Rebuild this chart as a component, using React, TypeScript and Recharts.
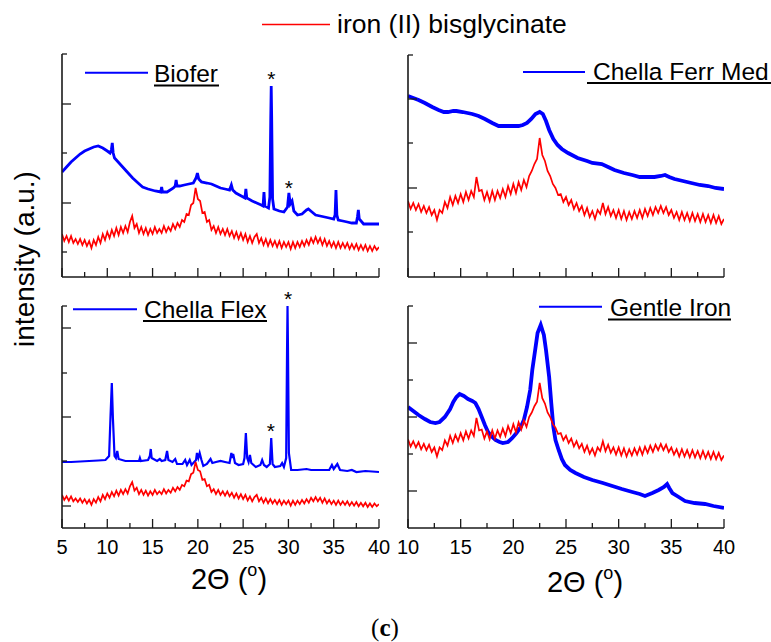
import React from 'react';
import { LineChart, Line, XAxis, YAxis, ReferenceDot } from 'recharts';

const W = 771;
const H = 642;
const FONT = '"Liberation Sans", Arial, Helvetica, sans-serif';
const SERIF = '"Liberation Serif", "Times New Roman", serif';
const BLUE = '#0000ff';
const RED = '#ff0000';
const AXIS = '#1a1a1a';

// ---------- tick values ----------
const leftXTicks = [5, 7.5, 10, 12.5, 15, 17.5, 20, 22.5, 25, 27.5, 30, 32.5, 35, 37.5, 40];
const rightXTicks = [10, 12.5, 15, 17.5, 20, 22.5, 25, 27.5, 30, 32.5, 35, 37.5, 40];

// ---------- iron (II) bisglycinate (reference), sampled every 0.25 deg ----------
const redStep = 0.25;
const redLeftStart = 5;
const redLeftY = [
  43, 36, 41, 35, // 5
  41, 34, 38, 33, // 6
  38, 32, 37, 31, // 7
  36, 29, 37, 32, // 8
  40, 34, 43, 37, // 9
  45, 39, 47, 41, // 10
  49, 42, 50, 44, // 11
  51, 45, 55, 61, // 12
  49, 53, 44, 50, // 13
  43, 49, 42, 48, // 14
  43, 50, 44, 48, // 15
  44, 51, 45, 50, // 16
  46, 53, 48, 54, // 17
  50, 57, 55, 63, // 18
  62, 72, 74, 89, // 19
  78, 76, 64, 65, // 20
  55, 57, 47, 51, // 21
  44, 50, 43, 48, // 22
  42, 48, 41, 46, // 23
  39, 45, 38, 44, // 24
  37, 43, 35, 41, // 25
  34, 40, 43, 34, // 26
  39, 32, 38, 31, // 27
  37, 31, 36, 30, // 28
  36, 29, 35, 30, // 29
  35, 28, 35, 29, // 30
  35, 30, 36, 31, // 31
  37, 32, 39, 34, // 32
  40, 34, 39, 32, // 33
  38, 31, 36, 30, // 34
  35, 29, 35, 29, // 35
  34, 29, 34, 28, // 36
  33, 28, 33, 27, // 37
  32, 27, 32, 26, // 38
  31, 26, 31, 27, // 39
  30, // 40
];
const redRightStart = 10;
const redRightY = [
  76, 68, 74, 67, // 10
  73, 65, 71, 64, // 11
  70, 62, 67, 57, // 12
  67, 64, 75, 69, // 13
  80, 72, 81, 74, // 14
  83, 75, 85, 77, // 15
  86, 80, 100, 86, // 16
  87, 77, 85, 76, // 17
  86, 77, 86, 79, // 18
  88, 80, 91, 83, // 19
  93, 84, 95, 87, // 20
  97, 90, 101, 106, // 21
  113, 118, 139, 122, // 22
  116, 106, 101, 93, // 23
  89, 82, 83, 75, // 24
  80, 72, 77, 68, // 25
  74, 66, 71, 62, // 26
  69, 60, 66, 58, // 27
  67, 63, 74, 63, // 28
  70, 61, 67, 59, // 29
  67, 58, 66, 57, // 30
  65, 58, 66, 59, // 31
  67, 59, 68, 61, // 32
  69, 62, 70, 64, // 33
  71, 64, 70, 62, // 34
  67, 59, 65, 57, // 35
  65, 57, 64, 56, // 36
  64, 56, 63, 55, // 37
  63, 55, 62, 54, // 38
  62, 54, 61, 53, // 39
  58, // 40
];

// ---------- supplements (blue), [2theta, intensity] ----------
const biofer: [number, number][] = [
  [5, 105], [5.5, 110], [6, 115], [6.5, 119], [7, 123], [7.5, 126], [8, 128], [8.5, 130], [9, 131],
  [9.5, 129], [10, 126], [10.3, 124], [10.45, 127], [10.55, 134], [10.65, 124], [10.8, 119],
  [11.5, 112], [12.2, 105], [12.8, 99], [13.4, 94], [13.9, 90], [14.5, 88], [15.3, 86], [15.9, 85],
  [16.0, 90], [16.1, 85], [16.6, 85], [17.3, 89], [17.5, 91], [17.6, 97], [17.7, 91], [18, 91],
  [18.5, 92], [19, 93], [19.5, 94], [19.8, 99], [19.95, 104], [20.1, 98], [20.4, 95], [21, 94],
  [21.5, 93], [22, 91], [22.5, 89], [23, 88], [23.5, 87], [23.7, 92], [23.85, 87], [24.2, 84],
  [24.8, 81], [25.2, 79], [25.3, 88], [25.4, 79], [26, 76], [26.5, 74], [27, 72], [27.2, 71],
  [27.3, 85], [27.4, 71], [27.8, 69], [27.95, 80], [28.05, 160], [28.1, 191], [28.15, 160],
  [28.25, 78], [28.4, 68], [29, 66], [29.5, 65], [29.9, 70], [30.05, 84], [30.2, 73], [30.4, 76],
  [30.6, 66], [31, 62], [31.5, 63], [32, 67], [32.2, 68], [32.6, 65], [33, 62], [33.5, 61],
  [34, 60], [34.5, 59], [35, 58], [35.15, 62], [35.25, 87], [35.35, 62], [35.5, 57], [36, 56],
  [36.5, 55], [37, 54], [37.5, 54], [37.62, 60], [37.72, 67], [37.82, 58], [38.3, 53], [39, 53],
  [40, 53],
];
const chellaFerrMed: [number, number][] = [
  [10, 181], [10.5, 179], [11, 177], [11.6, 174], [12.3, 170], [12.9, 167], [13.4, 165], [13.8, 165],
  [14.3, 166], [14.6, 166], [15.2, 165], [16.1, 163], [16.7, 161], [17.3, 158], [18.0, 154],
  [18.6, 151], [19.2, 151], [19.9, 151], [20.5, 151], [20.9, 152], [21.3, 154], [21.7, 158],
  [22.1, 163], [22.5, 165], [22.8, 163], [23.1, 156], [23.4, 147], [23.8, 138], [24.2, 132],
  [24.6, 128], [25.2, 124], [26.1, 119], [27.0, 116], [27.5, 114], [28.4, 113], [29.0, 110],
  [29.6, 107], [30.5, 104], [31.3, 102], [32.0, 100], [32.5, 100], [33.4, 100], [34.0, 101],
  [34.4, 102], [34.8, 100], [35.3, 98], [36.1, 96], [36.9, 94], [37.7, 92], [38.5, 91], [39.2, 89],
  [40, 88],
];
const chellaFlex: [number, number][] = [
  [5, 66], [6, 66], [7, 66.5], [8, 67], [9, 67.5], [9.8, 68], [10.2, 72], [10.35, 110], [10.5, 145],
  [10.62, 110], [10.8, 72], [10.95, 70], [11.1, 77], [11.25, 69], [12, 67], [13, 67], [13.5, 67],
  [13.6, 70], [13.7, 67], [14.5, 68], [14.7, 72], [14.8, 79], [14.9, 70], [15.5, 67], [15.8, 69],
  [16.0, 67], [16.4, 68], [16.6, 77], [16.75, 68], [17.2, 66], [17.5, 69], [17.7, 64], [18.3, 64],
  [18.6, 68], [18.8, 63], [19.1, 68], [19.3, 63], [19.8, 68], [19.9, 75], [20.05, 70], [20.2, 75],
  [20.4, 68], [20.6, 62], [21.0, 64], [21.4, 69], [21.6, 65], [22.0, 66], [22.5, 67], [23.0, 66],
  [23.5, 65], [23.7, 75], [23.8, 70], [23.9, 74], [24.1, 65], [24.5, 63], [25.0, 64], [25.15, 70],
  [25.3, 95], [25.45, 70], [25.6, 66], [25.75, 73], [25.9, 65], [26.4, 61], [26.9, 63], [27.1, 68],
  [27.3, 63], [27.6, 61], [27.95, 64], [28.1, 90], [28.25, 64], [28.5, 61], [29.1, 62], [29.3, 65],
  [29.5, 61], [29.75, 70], [29.85, 180], [29.9, 222], [29.95, 180], [30.05, 75], [30.3, 58],
  [31, 58], [32, 59], [32.5, 58], [33.5, 58], [34.5, 58], [34.8, 63], [35.0, 59], [35.4, 64],
  [35.7, 58], [36.5, 57], [37, 58], [37.5, 56], [38.5, 57], [40, 56],
];
const gentleIron: [number, number][] = [
  [10, 121], [10.5, 117], [11, 113], [11.6, 109], [12.1, 106], [12.6, 105], [13.0, 106], [13.5, 111],
  [14.0, 119], [14.3, 126], [14.6, 131], [14.9, 134], [15.3, 132], [15.7, 129], [16.1, 127],
  [16.4, 125], [16.7, 119], [17.0, 111], [17.3, 103], [17.6, 96], [18.0, 91], [18.3, 88], [18.7, 86],
  [19.0, 85], [19.5, 86], [19.9, 90], [20.3, 95], [20.7, 101], [21.0, 108], [21.3, 121], [21.6, 138],
  [21.8, 158], [22.1, 180], [22.3, 195], [22.6, 203], [22.9, 193], [23.1, 178], [23.4, 151],
  [23.6, 125], [23.8, 101], [24.0, 88], [24.3, 78], [24.6, 69], [24.9, 63], [25.4, 58], [25.9, 55],
  [26.7, 51], [27.5, 48], [28.5, 45], [29.4, 42], [30.3, 39], [31.3, 36], [32.0, 34], [32.5, 32],
  [33.2, 35], [33.8, 38], [34.3, 41], [34.6, 44], [34.8, 40], [35.1, 35], [35.7, 31], [36.3, 27],
  [37.2, 25], [38.2, 24], [39.0, 22], [40, 20],
];

// asterisk annotations [2theta, intensity]
const bioferStars: [number, number][] = [[28.1, 198], [30.05, 89]];
const flexStars: [number, number][] = [[29.95, 229], [28.05, 97]];

// ---------- helpers ----------
const toPts = (arr: [number, number][]) => arr.map(([x, y]) => ({ x, y }));
const gridPts = (start: number, ys: number[]) => ys.map((y, i) => ({ x: start + i * redStep, y }));

const redLeft = gridPts(redLeftStart, redLeftY);
const redRight = gridPts(redRightStart, redRightY);

type PanelCfg = {
  id: string;
  xDomain: [number, number];
  xTicks: number[];
  showXLabels: boolean;
  blue: { x: number; y: number }[];
  red: { x: number; y: number }[];
  blueDomain: [number, number];
  redDomain: [number, number];
  yTicks: number[];
  yMajor: number[];
  margin: { top: number; right: number; bottom: number; left: number };
  blueWidth: number;
  stars: [number, number][];
};

// margins: YAxis is 1px wide and XAxis 1px tall, so left/bottom are reduced by 1
const panels: PanelCfg[] = [
  {
    id: 'tl', xDomain: [5, 40], xTicks: leftXTicks, showXLabels: false,
    blue: toPts(biofer), red: redLeft, blueDomain: [0, 223], redDomain: [0, 223],
    yTicks: [25, 74, 124, 173, 223], yMajor: [74, 173],
    margin: { top: 54, right: 392, bottom: 364, left: 61 }, blueWidth: 2.8, stars: bioferStars,
  },
  {
    id: 'tr', xDomain: [10, 40], xTicks: rightXTicks, showXLabels: false,
    blue: toPts(chellaFerrMed), red: redRight, blueDomain: [0, 222], redDomain: [0, 222],
    yTicks: [45, 89, 134, 178, 222], yMajor: [89, 178],
    margin: { top: 55, right: 47, bottom: 364, left: 407 }, blueWidth: 3.8, stars: [],
  },
  {
    id: 'bl', xDomain: [5, 40], xTicks: leftXTicks, showXLabels: true,
    blue: toPts(chellaFlex), red: redLeft, blueDomain: [0, 222], redDomain: [-3.4, 307.6],
    yTicks: [22, 67, 111, 155, 200, 222], yMajor: [22, 111, 200],
    margin: { top: 306, right: 392, bottom: 113, left: 61 }, blueWidth: 2.2, stars: flexStars,
  },
  {
    id: 'br', xDomain: [10, 40], xTicks: rightXTicks, showXLabels: true,
    blue: toPts(gentleIron), red: redRight, blueDomain: [0, 222], redDomain: [-22.9, 224.9],
    yTicks: [37, 74, 111, 148, 185, 222], yMajor: [37, 111, 185],
    margin: { top: 306, right: 47, bottom: 113, left: 407 }, blueWidth: 3.8, stars: [],
  },
];

const XTick = (props: any) => {
  const { x, y, payload, showLabel } = props;
  const v = payload.value as number;
  const major = Math.abs(v % 5) < 1e-6;
  return (
    <g>
      <line x1={x} x2={x} y1={y} y2={y - (major ? 9 : 5)} stroke={AXIS} strokeWidth={1.3} />
      {showLabel && major && (
        <text x={x} y={y + 26} textAnchor="middle" fontSize={20} fontFamily={FONT} fill="#000">
          {v}
        </text>
      )}
    </g>
  );
};

const YTick = (props: any) => {
  const { x, y, payload, major } = props;
  const isMajor = (major as number[]).includes(payload.value);
  return <line x1={x} x2={x + (isMajor ? 9 : 5)} y1={y} y2={y} stroke={AXIS} strokeWidth={1.3} />;
};

const PanelChart = ({ p }: { p: PanelCfg }) => (
  <div style={{ position: 'absolute', left: 0, top: 0 }}>
    <LineChart width={W} height={H} margin={p.margin}>
      <XAxis
        type="number"
        dataKey="x"
        domain={p.xDomain}
        ticks={p.xTicks}
        interval={0}
        allowDataOverflow
        height={1}
        tickSize={0}
        tickMargin={0}
        tickLine={false}
        axisLine={{ stroke: AXIS, strokeWidth: 1.6 }}
        tick={(tp: any) => <XTick {...tp} showLabel={p.showXLabels} />}
      />
      <YAxis
        yAxisId="b"
        type="number"
        domain={p.blueDomain}
        ticks={p.yTicks}
        interval={0}
        allowDataOverflow
        width={1}
        tickSize={0}
        tickMargin={0}
        tickLine={false}
        axisLine={{ stroke: AXIS, strokeWidth: 1.6 }}
        tick={(tp: any) => <YTick {...tp} major={p.yMajor} />}
      />
      <YAxis yAxisId="r" type="number" domain={p.redDomain} allowDataOverflow hide />
      <Line
        yAxisId="b"
        data={p.blue}
        dataKey="y"
        type="linear"
        stroke={BLUE}
        strokeWidth={p.blueWidth}
        dot={false}
        activeDot={false}
        isAnimationActive={false}
      />
      <Line
        yAxisId="r"
        data={p.red}
        dataKey="y"
        type="linear"
        stroke={RED}
        strokeWidth={1.7}
        strokeLinejoin="miter"
        dot={false}
        activeDot={false}
        isAnimationActive={false}
      />
      {p.stars.map(([sx, sy], i) => (
        <ReferenceDot
          key={i}
          yAxisId="b"
          x={sx}
          y={sy}
          r={2}
          fill="none"
          stroke="none"
          ifOverflow="visible"
          label={{ value: '*', position: 'center', fontSize: 21, fill: '#000', fontFamily: FONT }}
        />
      ))}
    </LineChart>
  </div>
);

const Overlay = () => (
  <svg width={W} height={H} style={{ position: 'absolute', left: 0, top: 0, pointerEvents: 'none' }}>
    {/* top legend */}
    <line x1={262} x2={330} y1={24.5} y2={24.5} stroke={RED} strokeWidth={1.7} />
    <text x={337} y={33} fontSize={26.5} fontFamily={FONT} fill="#000">iron (II) bisglycinate</text>

    {/* panel labels */}
    <line x1={85} x2={148} y1={72.7} y2={72.7} stroke={BLUE} strokeWidth={2} />
    <text x={154} y={82} fontSize={24.5} fontFamily={FONT} fill="#000">Biofer</text>
    <line x1={154} x2={219} y1={85.5} y2={85.5} stroke="#000" strokeWidth={2} />

    <line x1={523} x2={585} y1={72} y2={72} stroke={BLUE} strokeWidth={2} />
    <text x={593} y={79.5} fontSize={24.5} fontFamily={FONT} fill="#000">Chella Ferr Med</text>
    <line x1={587} x2={771} y1={83} y2={83} stroke="#000" strokeWidth={2} />

    <line x1={73} x2={137} y1={309.3} y2={309.3} stroke={BLUE} strokeWidth={2} />
    <text x={144} y={317.5} fontSize={24.5} fontFamily={FONT} fill="#000">Chella Flex</text>
    <line x1={143} x2={267} y1={321} y2={321} stroke="#000" strokeWidth={2} />

    <line x1={539} x2={602} y1={306.7} y2={306.7} stroke={BLUE} strokeWidth={2} />
    <text x={610} y={316} fontSize={24.5} fontFamily={FONT} fill="#000">Gentle Iron</text>
    <line x1={608} x2={731} y1={319.5} y2={319.5} stroke="#000" strokeWidth={2} />

    {/* axis titles */}
    <text x={34} y={259} fontSize={28} fontFamily={FONT} fill="#000" textAnchor="middle" transform="rotate(-90 34 259)">
      intensity (a.u.)
    </text>
    <text x={229} y={589} fontSize={29} fontFamily={FONT} fill="#000" textAnchor="middle">
      2Θ (<tspan dy={-13} fontSize={18}>o</tspan><tspan dy={13}>)</tspan>
    </text>
    <text x={585} y={592} fontSize={29} fontFamily={FONT} fill="#000" textAnchor="middle">
      2Θ (<tspan dy={-13} fontSize={18}>o</tspan><tspan dy={13}>)</tspan>
    </text>

    {/* panel tag */}
    <text x={385} y={636} fontSize={25} fontFamily={SERIF} fill="#000" textAnchor="middle">
      (<tspan fontWeight="bold">c</tspan>)
    </text>
  </svg>
);

export default function App() {
  return (
    <div style={{ position: 'absolute', left: 0, top: 0, width: W, height: H, background: '#fff', overflow: 'hidden' }}>
      {panels.map((p) => (
        <PanelChart key={p.id} p={p} />
      ))}
      <Overlay />
    </div>
  );
}
